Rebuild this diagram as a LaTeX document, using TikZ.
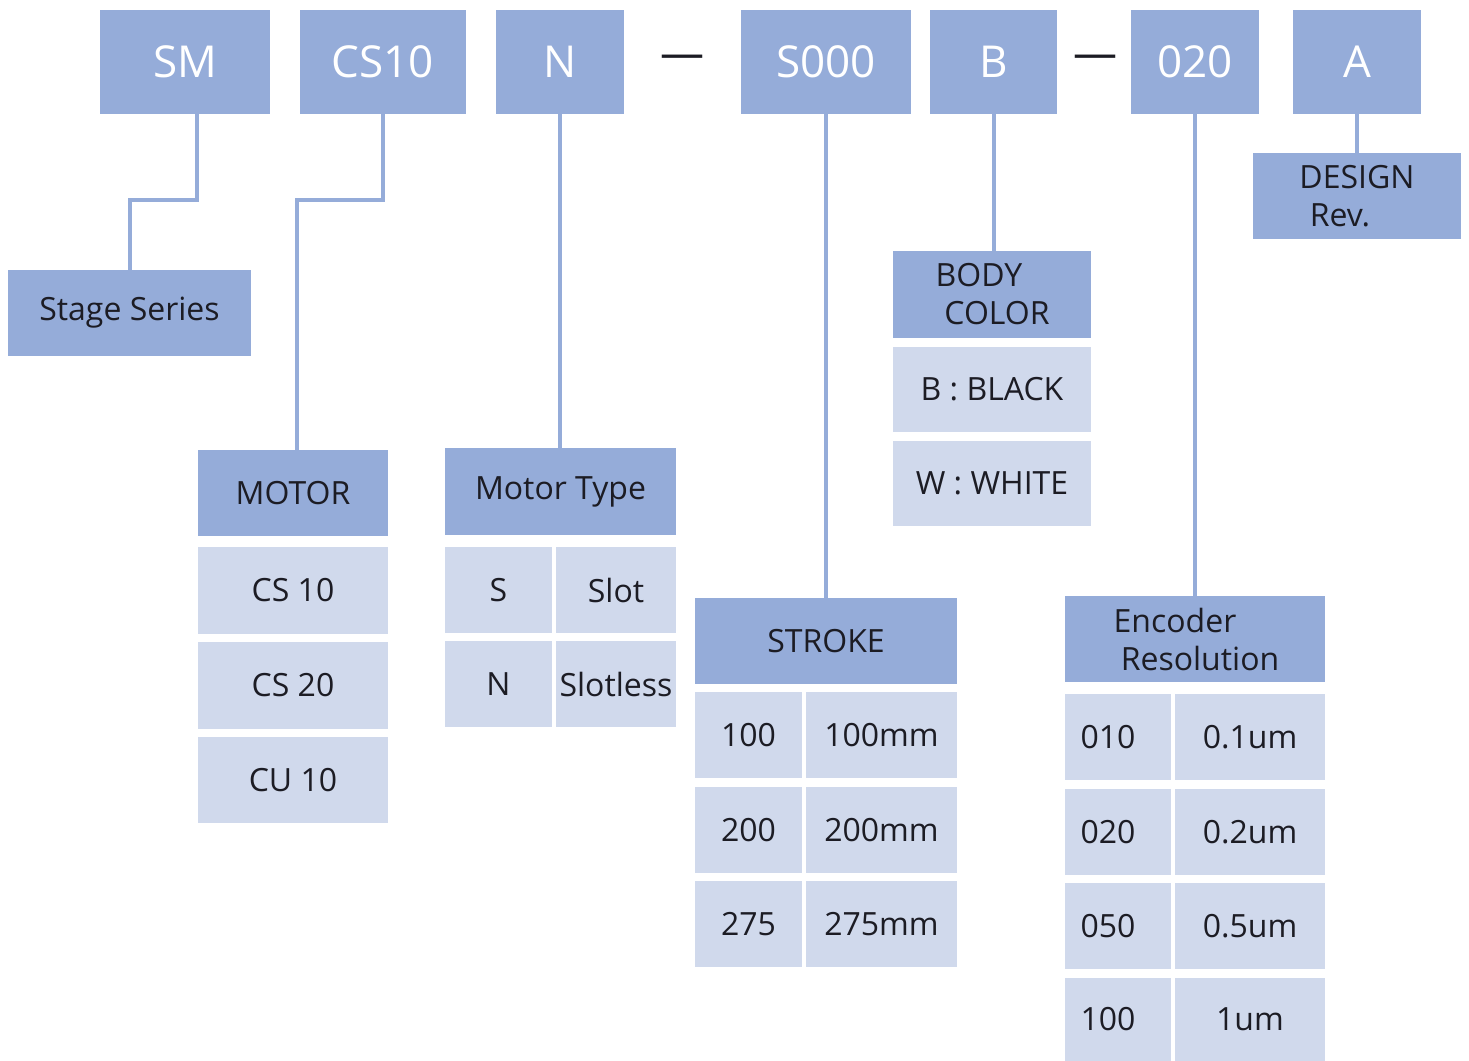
\documentclass[tikz,border=0pt]{standalone}
\usepackage{fontspec}
\setmainfont{Open Sans}
\definecolor{hdr}{HTML}{95ACD9}
\definecolor{cell}{HTML}{D0D9EC}
\definecolor{ink}{HTML}{1C1C24}
\begin{document}
\begin{tikzpicture}[x=0.5pt,y=-0.5pt,
  base/.style={inner sep=0pt, outer sep=0pt, anchor=north west, align=center},
  topbox/.style={base, fill=hdr, text=white, font=\fontsize{22}{26}\selectfont, minimum height=52pt},
  headbox/.style={base, fill=hdr, text=ink, font=\fontsize{16}{19}\selectfont},
  cellbox/.style={base, fill=cell, text=ink, font=\fontsize{16}{19}\selectfont},
  dashtxt/.style={text=ink, font=\fontsize{22}{26}\selectfont, inner sep=0pt},
  conn/.style={draw=hdr, line width=2pt}
]
\useasboundingbox (0,0) rectangle (1469,1061);
% top code boxes
\node[topbox, minimum width=85pt]   (sm)   at (100,10)  {SM};
\node[topbox, minimum width=83pt]   (cs)   at (300,10)  {CS10};
\node[topbox, minimum width=64pt]   (n)    at (496,10)  {N};
\node[dashtxt] (d1) at (682,62) {—};
\node[topbox, minimum width=85pt]   (s000) at (741,10)  {S000};
\node[topbox, minimum width=63.5pt] (b)    at (930,10)  {B};
\node[dashtxt] (d2) at (1095,62) {—};
\node[topbox, minimum width=64pt]   (enc)  at (1131,10) {020};
\node[topbox, minimum width=64pt]   (a)    at (1293,10) {A};

% Stage series
\node[headbox, minimum width=121.5pt, minimum height=43pt] (ser) at (8,270) {Stage Series};

% MOTOR
\node[headbox, minimum width=95pt, minimum height=43pt] (motor) at (198,450) {MOTOR};
\node[cellbox, minimum width=95pt, minimum height=43.5pt] (m1) at (198,547) {CS 10};
\node[cellbox, minimum width=95pt, minimum height=43.5pt] (m2) at (198,642) {CS 20};
\node[cellbox, minimum width=95pt, minimum height=43pt] (m3) at (198,737) {CU 10};

% Motor type
\node[headbox, minimum width=115.5pt, minimum height=43.5pt] (mt) at (445,448) {Motor Type};
\node[cellbox, minimum width=53.5pt, minimum height=43pt] (mt1a) at (445,547) {S};
\node[cellbox, minimum width=60pt, minimum height=43pt] (mt1b) at (556,547) {Slot};
\node[cellbox, minimum width=53.5pt, minimum height=43pt] (mt2a) at (445,641) {N};
\node[cellbox, minimum width=60pt, minimum height=43pt] (mt2b) at (556,641) {Slotless};

% Stroke
\node[headbox, minimum width=131pt, minimum height=43pt] (st) at (695,598) {STROKE};
\node[cellbox, minimum width=53.5pt, minimum height=43pt] (st1a) at (695,692) {100};
\node[cellbox, minimum width=75.5pt, minimum height=43pt] (st1b) at (806,692) {100mm};
\node[cellbox, minimum width=53.5pt, minimum height=43pt] (st2a) at (695,787) {200};
\node[cellbox, minimum width=75.5pt, minimum height=43pt] (st2b) at (806,787) {200mm};
\node[cellbox, minimum width=53.5pt, minimum height=43pt] (st3a) at (695,881) {275};
\node[cellbox, minimum width=75.5pt, minimum height=43pt] (st3b) at (806,881) {275mm};

% Body color
\node[headbox, minimum width=99pt, minimum height=43.5pt] (bc) at (893,251) {BODY\hspace*{13pt}\\\hspace*{5pt}COLOR};
\node[cellbox, minimum width=99pt, minimum height=42.5pt] (bc1) at (893,347) {B : BLACK};
\node[cellbox, minimum width=99pt, minimum height=42.5pt] (bc2) at (893,441) {W : WHITE};

% Design rev
\node[headbox, minimum width=104pt, minimum height=43pt] (dr) at (1253,153) {DESIGN\\Rev.\hspace*{17pt}};

% Encoder resolution
\node[headbox, minimum width=130pt, minimum height=43pt] (er) at (1065,596) {Encoder\hspace*{20pt}\\\hspace*{5pt}Resolution};
\node[cellbox, minimum width=53pt, minimum height=43pt] (er1a) at (1065,694) {010\hspace*{10pt}};
\node[cellbox, minimum width=75pt, minimum height=43pt] (er1b) at (1175,694) {0.1um};
\node[cellbox, minimum width=53pt, minimum height=43pt] (er2a) at (1065,789) {020\hspace*{10pt}};
\node[cellbox, minimum width=75pt, minimum height=43pt] (er2b) at (1175,789) {0.2um};
\node[cellbox, minimum width=53pt, minimum height=43pt] (er3a) at (1065,883) {050\hspace*{10pt}};
\node[cellbox, minimum width=75pt, minimum height=43pt] (er3b) at (1175,883) {0.5um};
\node[cellbox, minimum width=53pt, minimum height=41.5pt] (er4a) at (1065,978) {100\hspace*{10pt}};
\node[cellbox, minimum width=75pt, minimum height=41.5pt] (er4b) at (1175,978) {1um};

% connectors
\coordinate (kink) at (0,200);
\draw[conn] ([xshift=6pt]sm.south) |- (ser.north |- kink) -- (ser.north);
\draw[conn] (cs.south) |- ([xshift=2pt]motor.north |- kink) -- ([xshift=2pt]motor.north);
\draw[conn] (n.south) -- (n.south |- mt.north);
\draw[conn] (s000.south) -- (s000.south |- st.north);
\draw[conn] (b.south) -- (b.south |- bc.north);
\draw[conn] (enc.south) -- (enc.south |- er.north);
\draw[conn] (a.south) -- (a.south |- dr.north);
\end{tikzpicture}
\end{document}
